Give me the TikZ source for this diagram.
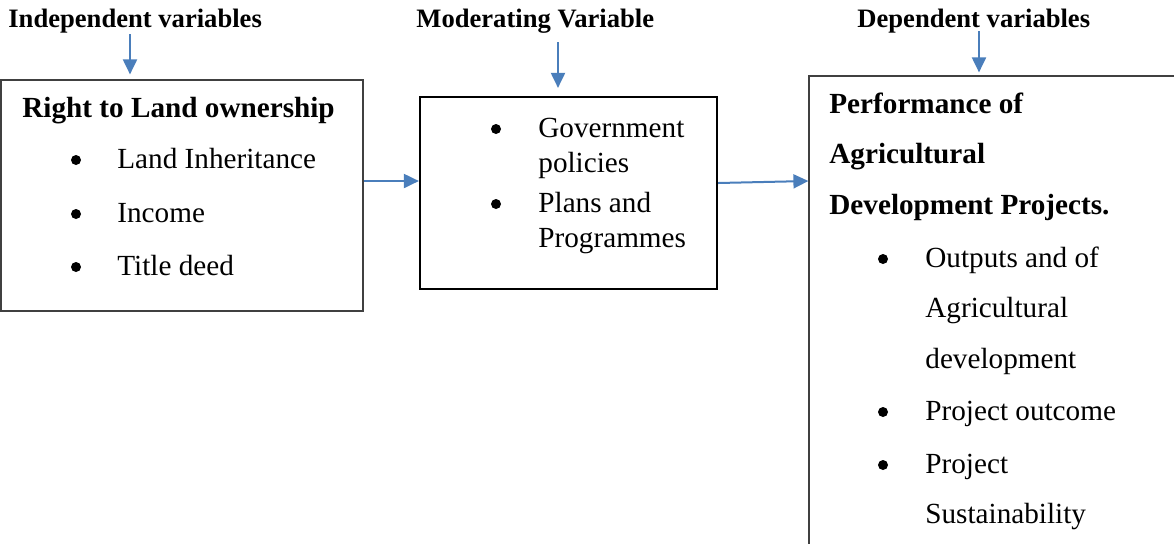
\documentclass[tikz,border=0pt]{standalone}
\usepackage{fontspec}
\setmainfont{Liberation Serif}
\usetikzlibrary{arrows.meta,positioning,fit}
\definecolor{flowblue}{RGB}{74,126,187}

\begin{document}
\begin{tikzpicture}[x=0.5pt,y=-0.5pt,
		txt/.style={anchor=base west,inner sep=0pt,font=\fontsize{14.6}{16}\selectfont},
		bold/.style={txt,font=\fontsize{14.6}{16}\selectfont\bfseries},
		head/.style={anchor=base west,inner sep=0pt,font=\fontsize{13.3}{15}\selectfont\bfseries},
		dot/.style={circle,fill=black,inner sep=0pt,minimum size=5pt},
		box/.style={draw=black!75,line width=0.6pt,inner sep=0pt},
		flow/.style={draw=flowblue,line width=1pt,arrows={-Triangle[length=7.5pt,width=7pt]}}]
	\useasboundingbox (0,0) rectangle (1174,543);
	\clip (0,0) rectangle (1174,543);

	% boxes
	\node[box,fit={(1,80) (363,311)}] (own) {};
	\node[box,draw=black,line width=1.1pt,fit={(420,97) (717,289)}] (mod) {};
	\node[box,fit={(809,76) (1190,560)}] (perf) {};

	% headings
	\node[head] (indep) at (8,27) {Independent variables};
	\node[head] (moder) at (416,27) {Moderating Variable};
	\node[head] (dep) at (857,27) {Dependent variables};

	% left box
	\node[bold] (own-title) at (22,117) {Right to Land ownership};
	\node[dot] (own-dot1) at (76,160) {};
	\node[txt] (own-item1) at (117,168) {Land Inheritance};
	\node[dot] (own-dot2) at (76,214) {};
	\node[txt] (own-item2) at (117,222) {Income};
	\node[dot] (own-dot3) at (76,267) {};
	\node[txt] (own-item3) at (117,275) {Title deed};

	% middle box
	\node[dot] (mod-dot1) at (496,129) {};
	\node[txt] (mod-item1) at (538,137) {Government};
	\node[txt] (mod-item1b) at (538,172) {policies};
	\node[dot] (mod-dot2) at (496,204) {};
	\node[txt] (mod-item2) at (538,212) {Plans and};
	\node[txt] (mod-item2b) at (538,247) {Programmes};

	% right box
	\node[bold] (perf-title1) at (829,113) {Performance of};
	\node[bold] (perf-title2) at (829,163) {Agricultural};
	\node[bold] (perf-title3) at (829,214) {Development Projects.};
	\node[dot] (perf-dot1) at (883,259) {};
	\node[txt] (perf-item1) at (925,267) {Outputs and of};
	\node[txt] (perf-item1b) at (925,317) {Agricultural};
	\node[txt] (perf-item1c) at (925,368) {development};
	\node[dot] (perf-dot2) at (883,412) {};
	\node[txt] (perf-item2) at (925,420) {Project outcome};
	\node[dot] (perf-dot3) at (883,465) {};
	\node[txt] (perf-item3) at (925,473) {Project};
	\node[txt] (perf-item3b) at (925,523) {Sustainability};

	% arrows
	\coordinate (indep-in) at (130,34);
	\coordinate (moder-in) at (558,42);
	\coordinate (dep-in) at (979,31);
	\draw[flow] (indep-in) -- ([yshift=2.5pt]indep-in |- own.north);
	\draw[flow] (moder-in) -- ([yshift=4pt]moder-in |- mod.north);
	\draw[flow] (dep-in) -- ([yshift=1.5pt]dep-in |- perf.north);

	\draw[flow] ([yshift=7.25pt]own.east) -- ([yshift=7.25pt]own.east -| mod.west);
	\draw[flow] ([yshift=5pt]mod.east) -- ([yshift=68.5pt]perf.west);
\end{tikzpicture}
\end{document}
